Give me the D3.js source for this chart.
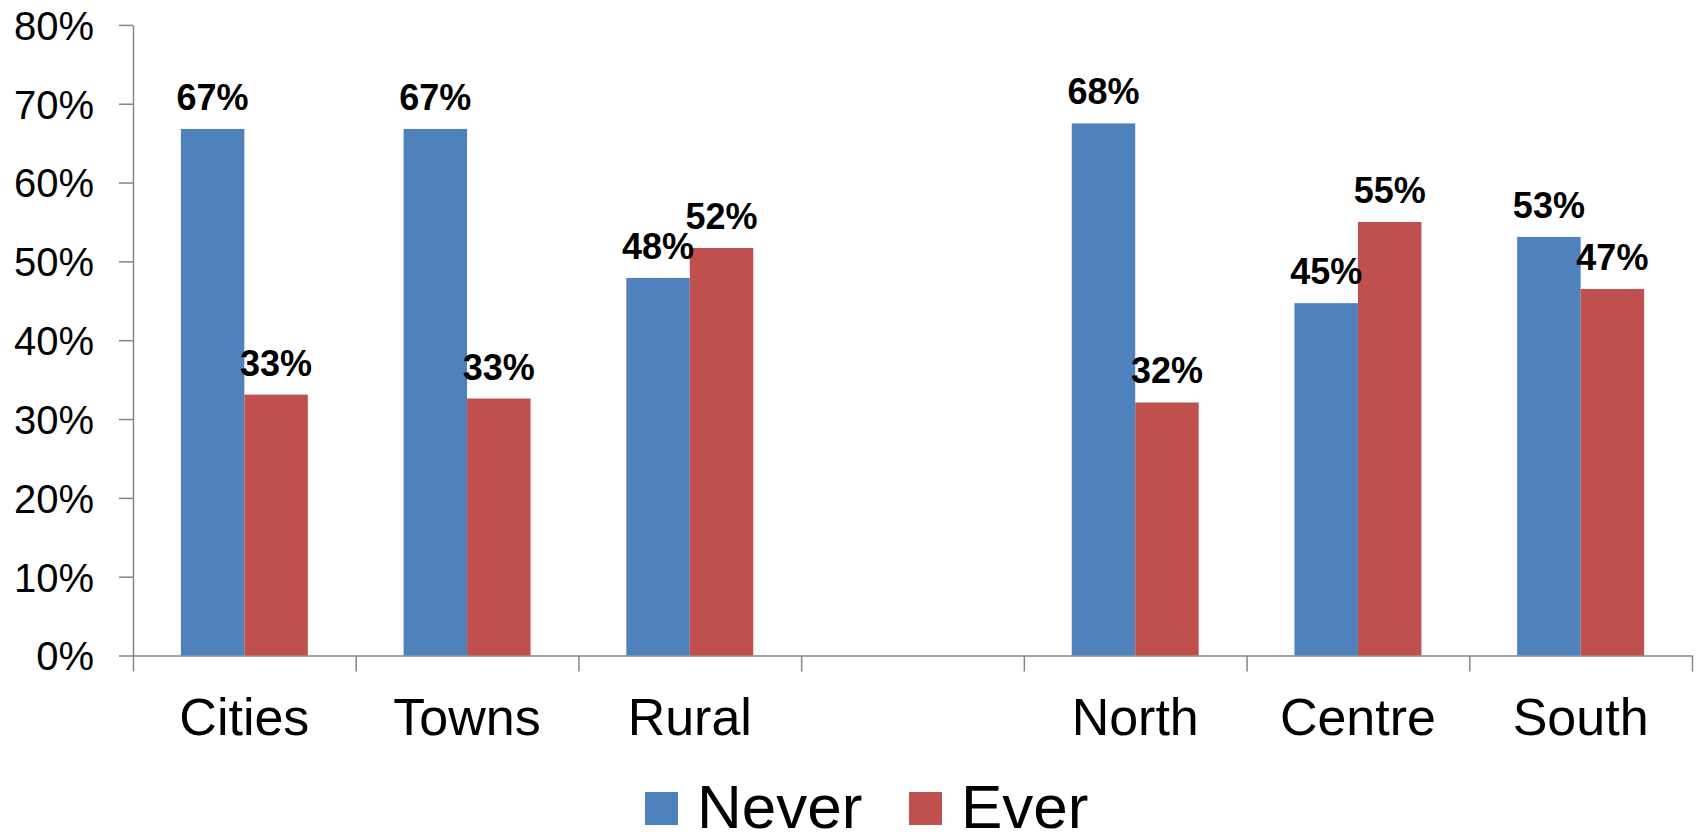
<!DOCTYPE html>
<html>
<head>
<meta charset="utf-8">
<script src="https://cdn.jsdelivr.net/npm/d3@7"></script>
<style>
  body { margin: 0; background: #fff; }
  text { font-family: "Liberation Sans", Arial, sans-serif; fill: #000; }
  .axis path, .axis line { stroke: #868686; stroke-width: 1.5; }
</style>
</head>
<body>
<script>
var width = 1696,
    height = 832;

// data (values in %)
var categories = ["Cities", "Towns", "Rural", "", "North", "Centre", "South"];
var seriesNames = ["Never", "Ever"];
var never = [66.8, 66.8, 47.9, null, 67.5, 44.7, 53.1];
var ever  = [33.1, 32.6, 51.7, null, 32.1, 55.0, 46.5];
var yTicks = [0, 10, 20, 30, 40, 50, 60, 70, 80];
var colors = ["#4F81BD", "#C0504D"];

var plotLeft = 133, plotRight = 1692, plotTop = 24.9, plotBottom = 655.5;

var svg = d3.select("body").append("svg")
    .attr("width", width)
    .attr("height", height);

var x = d3.scaleBand().domain(d3.range(categories.length)).range([plotLeft, plotRight]).paddingInner(0).paddingOuter(0);
// inner scale for the two bars of a group
var xs = d3.scaleBand().domain(seriesNames).range([0, x.bandwidth() * 0.57]);
var groupOffset = (x.bandwidth() - xs.range()[1]) / 2;
var y = d3.scaleLinear().domain([0, 80]).range([plotBottom, plotTop]);

//y axis
svg.append("g")
    .attr("class", "axis")
    .attr("transform", "translate(" + plotLeft + ",0)")
    .call(d3.axisLeft(y).tickValues(yTicks).tickSize(14).tickPadding(25).tickSizeOuter(0)
        .tickFormat(function(d){ return d + "%"; }))
    .call(function(g){ g.selectAll("text").style("font-size", "40px").attr("dy", "0.36em"); });

//x axis, ticks sit at the band edges
var xEdge = d3.scaleLinear().domain([0, categories.length]).range([plotLeft, plotRight]);
svg.append("g")
    .attr("class", "axis")
    .attr("transform", "translate(0," + plotBottom + ")")
    .call(d3.axisBottom(xEdge).tickValues(d3.range(categories.length + 1)).tickSize(16).tickSizeOuter(0)
        .tickFormat(""));

//category labels
svg.append("g").selectAll("text")
    .data(categories)
    .enter().append("text")
    .attr("x", function(d, i){ return x(i) + x.bandwidth() / 2; })
    .attr("y", 735)
    .attr("text-anchor", "middle")
    .style("font-size", "52px")
    .text(function(d){ return d; });

var rows = [];
categories.forEach(function(c, i){
    [never, ever].forEach(function(s, j){
        if (s[i] != null) rows.push({ i: i, name: seriesNames[j], value: s[i], color: colors[j] });
    });
});

//bars
svg.append("g").selectAll("rect")
    .data(rows)
    .enter().append("rect")
    .attr("x", function(d){ return x(d.i) + groupOffset + xs(d.name); })
    .attr("y", function(d){ return y(d.value); })
    .attr("width", xs.bandwidth())
    .attr("height", function(d){ return y(0) - y(d.value); })
    .attr("fill", function(d){ return d.color; });

//value labels
svg.append("g").selectAll("text")
    .data(rows)
    .enter().append("text")
    .attr("x", function(d){ return x(d.i) + groupOffset + xs(d.name) + xs.bandwidth() / 2; })
    .attr("y", function(d){ return y(d.value) - 19; })
    .attr("text-anchor", "middle")
    .style("font-size", "36px")
    .style("font-weight", "bold")
    .text(function(d){ return Math.round(d.value) + "%"; });

//legend
var legendX = [645, 909];
var legend = svg.append("g").selectAll("g")
    .data(seriesNames)
    .enter().append("g")
    .attr("transform", function(d, i){ return "translate(" + legendX[i] + ",792)"; });
legend.append("rect")
    .attr("width", 33)
    .attr("height", 33)
    .attr("fill", function(d, i){ return colors[i]; });
legend.append("text")
    .attr("x", 52)
    .attr("y", 36)
    .style("font-size", "62px")
    .text(function(d){ return d; });
</script>
</body>
</html>
